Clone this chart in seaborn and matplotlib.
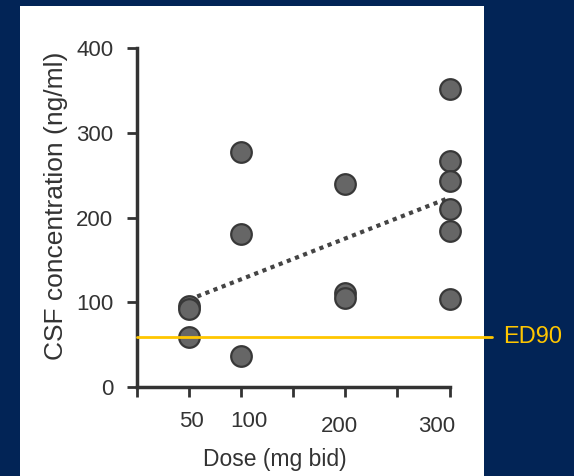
import matplotlib
matplotlib.use("Agg")
import matplotlib.pyplot as plt
import matplotlib.transforms as mtransforms
from matplotlib.patches import Rectangle
from matplotlib.ticker import FixedLocator, FixedFormatter
import pandas as pd
import seaborn as sns

# data
dose = [50, 50, 50, 100, 100, 100, 200, 200, 200, 300, 300, 300, 300, 300, 300]
csf = [96, 92, 59, 277, 180, 37, 240, 111, 105, 352, 267, 243, 210, 184, 104]
ed90 = 59
x_ticks = [0, 50, 100, 150, 200, 250, 300]
x_labels = ["", "50", "100", "", "200", "", "300"]
y_ticks = [0, 100, 200, 300, 400]

navy = "#022456"
yellow = "#FFC600"
ink = "#333333"

sns.set_style("ticks")
plt.rcParams["font.family"] = ["Liberation Sans", "DejaVu Sans"]

df = pd.DataFrame({"dose": dose, "csf": csf})

fig = plt.figure(figsize=(5.74, 4.76), dpi=100, facecolor=navy)
fig.patches.append(Rectangle((20 / 574, 0), 464 / 574, 470 / 476,
                             transform=fig.transFigure, facecolor="white",
                             edgecolor="none", zorder=-10))

ax = fig.add_axes([137 / 574, 1 - 387 / 476, 323 / 574, 339 / 476])
ax.set_facecolor("none")

sns.regplot(data=df, x="dose", y="csf", ci=None, scatter=False, ax=ax,
            line_kws=dict(color="#444444", lw=3, linestyle=(0, (1, 1.1))))
sns.scatterplot(data=df, x="dose", y="csf", ax=ax, s=220, color="#666666",
                edgecolor="#383838", linewidth=1.6, zorder=3, clip_on=False)
ax.axhline(ed90, xmin=0, xmax=(492 - 137) / 323, color=yellow, lw=2,
           zorder=4, clip_on=False)
ax.text(503, 1 - 337 / 476, "ED90", transform=mtransforms.blended_transform_factory(
    mtransforms.IdentityTransform(), fig.transFigure), color=yellow,
        fontsize=17, va="center", ha="left")

ax.set_xlim(0, 310)
ax.set_ylim(0, 400)
ax.spines["top"].set_visible(False)
ax.spines["right"].set_visible(False)
ax.spines["bottom"].set_bounds(0, 300)
for s in ("left", "bottom"):
    ax.spines[s].set_color(ink)
    ax.spines[s].set_linewidth(2.5)

ax.xaxis.set_major_locator(FixedLocator(x_ticks))
ax.xaxis.set_major_formatter(FixedFormatter(x_labels))
ax.set_yticks(y_ticks)
ax.tick_params(axis="both", length=7, width=2, color=ink, labelcolor=ink,
               labelsize=16)
ax.tick_params(axis="x", pad=11)
ax.tick_params(axis="y", pad=10)

ax.set_xlabel("Dose (mg bid)", fontsize=16.5, color=ink)
ax.set_ylabel("CSF concentration (ng/ml)", fontsize=19, color=ink)
ax.xaxis.set_label_coords((275 - 137) / 323, -0.18)
ax.yaxis.set_label_coords((68 - 137) / 323, (387 - 206) / 339)

# hand-placed tick labels in the original
offsets = {"50": (2, 1), "100": (8, 1), "200": (-6, -4), "300": (-13, -4)}
for lab in ax.get_xticklabels():
    dx, dy = offsets.get(lab.get_text(), (0, 0))
    lab.set_transform(lab.get_transform() +
                      mtransforms.ScaledTranslation(dx / 100, dy / 100, fig.dpi_scale_trans))

fig.savefig("out.png", dpi=100, facecolor=navy)
